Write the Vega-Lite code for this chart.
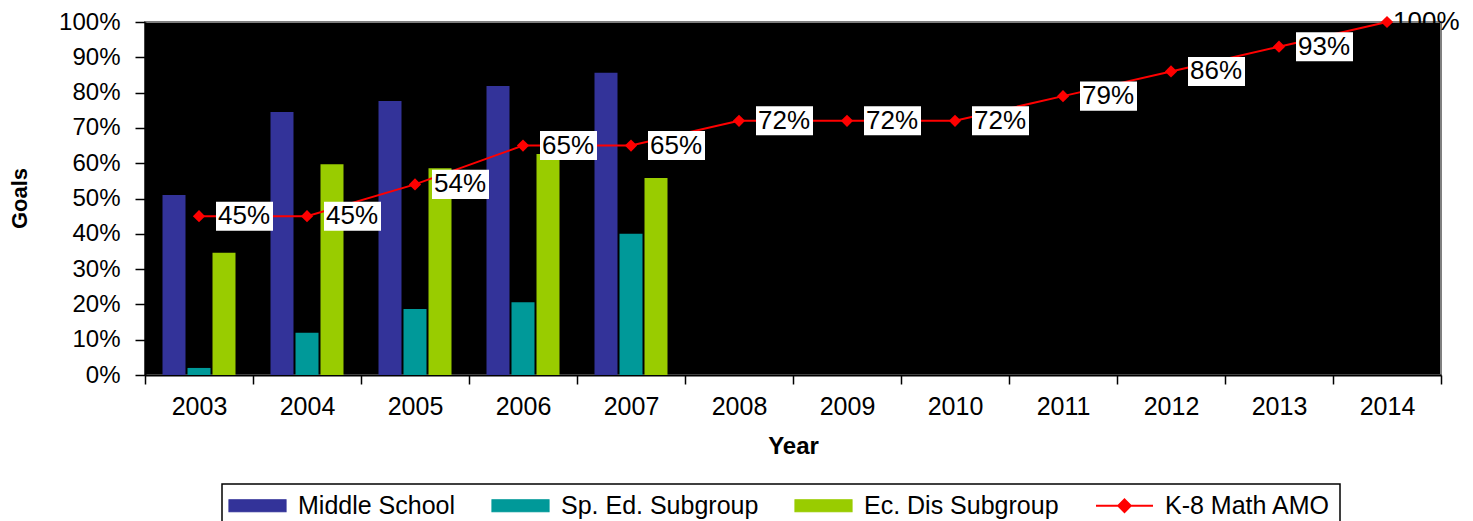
{
  "$schema": "https://vega.github.io/schema/vega-lite/v6.json",
  "width": 1296,
  "height": 353,
  "autosize": {"type": "none"},
  "padding": {"left": 145, "top": 22, "right": 32, "bottom": 146},
  "background": "white",
  "datasets": {
    "bars": [
      {"Year": "2003", "series": "Middle School", "value": 0.51},
      {"Year": "2003", "series": "Sp. Ed. Subgroup", "value": 0.02},
      {"Year": "2003", "series": "Ec. Dis Subgroup", "value": 0.346},
      {"Year": "2004", "series": "Middle School", "value": 0.745},
      {"Year": "2004", "series": "Sp. Ed. Subgroup", "value": 0.12},
      {"Year": "2004", "series": "Ec. Dis Subgroup", "value": 0.597},
      {"Year": "2005", "series": "Middle School", "value": 0.776},
      {"Year": "2005", "series": "Sp. Ed. Subgroup", "value": 0.187},
      {"Year": "2005", "series": "Ec. Dis Subgroup", "value": 0.586},
      {"Year": "2006", "series": "Middle School", "value": 0.819},
      {"Year": "2006", "series": "Sp. Ed. Subgroup", "value": 0.206},
      {"Year": "2006", "series": "Ec. Dis Subgroup", "value": 0.626},
      {"Year": "2007", "series": "Middle School", "value": 0.856},
      {"Year": "2007", "series": "Sp. Ed. Subgroup", "value": 0.40},
      {"Year": "2007", "series": "Ec. Dis Subgroup", "value": 0.558}
    ],
    "amo": [
      {"Year": "2003", "value": 0.45},
      {"Year": "2004", "value": 0.45},
      {"Year": "2005", "value": 0.54},
      {"Year": "2006", "value": 0.65},
      {"Year": "2007", "value": 0.65},
      {"Year": "2008", "value": 0.72},
      {"Year": "2009", "value": 0.72},
      {"Year": "2010", "value": 0.72},
      {"Year": "2011", "value": 0.79},
      {"Year": "2012", "value": 0.86},
      {"Year": "2013", "value": 0.93},
      {"Year": "2014", "value": 1.0}
    ]
  },
  "encoding": {
    "x": {
      "field": "Year",
      "type": "ordinal",
      "scale": {"paddingInner": 0, "paddingOuter": 0},
      "axis": {
        "title": "Year",
        "labelAngle": 0,
        "tickBand": "extent",
        "tickSize": 9,
        "tickWidth": 1.5,
        "labelFontSize": 25,
        "labelBaseline": "alphabetic",
        "labelPadding": 30,
        "titleFontSize": 24,
        "titleFontWeight": "bold",
        "titleBaseline": "alphabetic",
        "titleY": 78,
        "domainWidth": 2
      }
    },
    "y": {
      "field": "value",
      "type": "quantitative",
      "scale": {"domain": [0, 1], "nice": false},
      "axis": {
        "title": "Goals",
        "values": [0, 0.1, 0.2, 0.3, 0.4, 0.5, 0.6, 0.7, 0.8, 0.9, 1.0],
        "format": ".0%",
        "grid": false,
        "tickSize": 10,
        "tickWidth": 1.5,
        "labelFontSize": 24,
        "labelPadding": 15,
        "titleFontSize": 22,
        "titleFontWeight": "bold",
        "titleX": -126,
        "titleY": 176,
        "titleAlign": "center",
        "titleBaseline": "middle",
        "titleAngle": 270,
        "domainWidth": 2
      }
    }
  },
  "layer": [
    {
      "data": {"name": "bars"},
      "mark": {"type": "bar"},
      "encoding": {
        "xOffset": {
          "field": "series",
          "type": "nominal",
          "scale": {"domain": ["Middle School", "Sp. Ed. Subgroup", "Ec. Dis Subgroup"], "paddingInner": 0.08, "paddingOuter": 0.7}
        },
        "color": {
          "field": "series",
          "type": "nominal",
          "scale": {
            "domain": ["Middle School", "Sp. Ed. Subgroup", "Ec. Dis Subgroup", "K-8 Math AMO"],
            "range": ["#333399", "#009999", "#99CC00", "#FF0000"]
          },
          "legend": {
            "title": null,
            "orient": "none",
            "legendX": 77,
            "legendY": 462,
            "direction": "horizontal",
            "columns": 4,
            "padding": 9,
            "strokeColor": "black",
            "fillColor": "white",
            "labelFontSize": 25,
            "labelColor": "black",
            "labelOffset": 28,
            "labelLimit": 400,
            "columnPadding": 33,
            "symbolOffset": 14,
            "symbolSize": 3249,
            "encode": {
              "legend": {
                "update": {"strokeWidth": {"value": 1.5}}
              },
              "symbols": {
                "update": {
                  "shape": {"signal": "datum.value === 'K-8 Math AMO' ? 'M-1,0 L1,0 M0,-0.22 L0.22,0 L0,0.22 L-0.22,0 Z' : 'M-1,-0.21 L1,-0.21 L1,0.21 L-1,0.21 Z'"},
                  "fill": {"signal": "scale('color', datum.value)"},
                  "stroke": {"signal": "datum.value === 'K-8 Math AMO' ? '#FF0000' : '#000000'"},
                  "strokeWidth": {"signal": "datum.value === 'K-8 Math AMO' ? 2 : 1.2"},
                  "opacity": {"value": 1},
                  "fillOpacity": {"value": 1},
                  "size": {"value": 3249}
                }
              }
            }
          }
        }
      }
    },
    {
      "data": {"name": "amo"},
      "mark": {"type": "line", "strokeWidth": 2},
      "encoding": {
        "color": {"datum": "K-8 Math AMO"}
      }
    },
    {
      "data": {"name": "amo"},
      "transform": [{"filter": "datum.Year != '2014'"}],
      "mark": {
        "type": "point",
        "shape": "M-1,-0.509 L1,-0.509 L1,0.509 L-1,0.509 Z",
        "size": 3249,
        "filled": true,
        "fill": "white",
        "opacity": 1,
        "strokeWidth": 0,
        "xOffset": 45.5
      }
    },
    {
      "data": {"name": "amo"},
      "mark": {"type": "point", "shape": "diamond", "size": 150, "filled": true, "fill": "#FF0000", "opacity": 1, "strokeWidth": 0}
    },
    {
      "data": {"name": "amo"},
      "transform": [{"filter": "datum.Year != '2014'"}],
      "mark": {"type": "text", "align": "left", "baseline": "middle", "dx": 19, "fontSize": 26, "color": "black"},
      "encoding": {
        "text": {"field": "value", "type": "quantitative", "format": ".0%"}
      }
    },
    {
      "data": {"name": "amo"},
      "transform": [{"filter": "datum.Year == '2014'"}],
      "mark": {"type": "text", "align": "left", "baseline": "middle", "dx": 6, "fontSize": 26, "color": "black"},
      "encoding": {
        "text": {"field": "value", "type": "quantitative", "format": ".0%"}
      }
    }
  ],
  "config": {
    "font": "Liberation Sans",
    "view": {"fill": "black", "stroke": "#808080", "strokeWidth": 2},
    "axis": {"domainColor": "black", "tickColor": "black", "labelColor": "black", "titleColor": "black"}
  }
}
